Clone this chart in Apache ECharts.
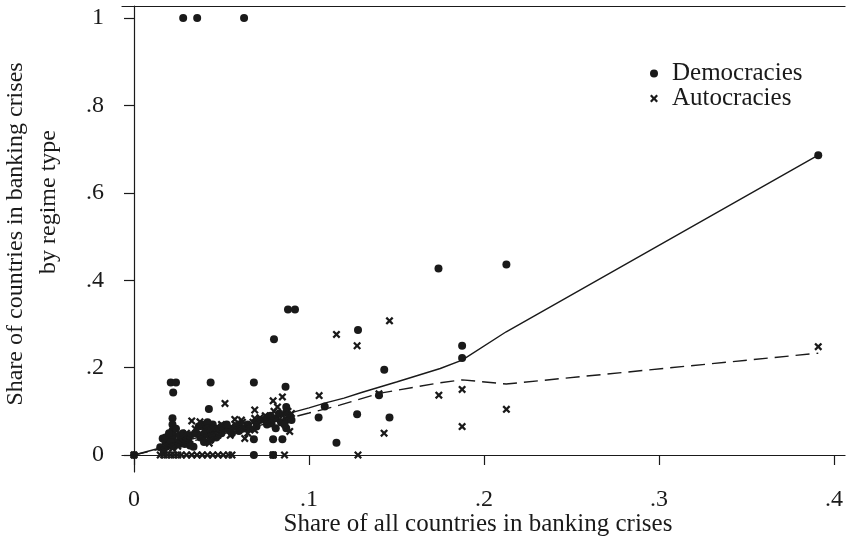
<!DOCTYPE html>
<html>
<head>
<meta charset="utf-8">
<script src="https://cdn.jsdelivr.net/npm/echarts@6/dist/echarts.min.js"></script>
<style>html,body{margin:0;padding:0;background:#fff}#c{width:846px;height:543px}</style>
</head>
<body>
<div id="c"></div>
<script>
// ---- data ----
var democracies = [
  [0,0],
  [0.0281,1],[0.0361,1],[0.0629,1],
  [0.021,0.166],[0.024,0.166],[0.0224,0.143],
  [0.0438,0.166],[0.0685,0.166],[0.0866,0.156],
  [0.08,0.265],
  [0.088,0.333],[0.092,0.333],
  [0.174,0.427],[0.2128,0.436],
  [0.128,0.286],[0.1875,0.25],[0.1875,0.222],[0.143,0.195],[0.14,0.137],
  [0.1275,0.093],[0.146,0.086],[0.1157,0.028],
  [0.109,0.111],[0.1055,0.086],
  [0.391,0.686],
  [0.0428,0.105],
  [0.022,0.084],[0.022,0.07],[0.022,0.056],[0.022,0.045],[0.022,0.036],[0.0164,0.038],[0.018,0.03],[0.02,0.025],[0.025,0.03],[0.028,0.035],[0.03,0.04],
  [0.034,0.019],[0.032,0.022],
  [0.039,0.07],[0.041,0.06],[0.043,0.05],[0.045,0.07],[0.047,0.04],[0.04,0.045],[0.044,0.035],[0.042,0.075],[0.046,0.055],
  [0.05,0.05],[0.052,0.06],[0.055,0.06],[0.058,0.065],[0.06,0.055],
  [0.0685,0.036],[0.0685,0],
  [0.0786,0.072],[0.0795,0.036],[0.0848,0.036],[0.0795,0],
  [0.087,0.11],[0.087,0.098],[0.087,0.08],[0.087,0.061],[0.081,0.084],[0.081,0.061],
  [0.065,0.07],[0.07,0.075],[0.075,0.08],
  [0.015,0.018],[0.017,0.01],
  [0.018,0.04],[0.02,0.05],[0.024,0.06],[0.026,0.045],[0.028,0.05],[0.03,0.03],[0.032,0.045],[0.035,0.05],[0.037,0.065],[0.038,0.04],
  [0.04,0.03],[0.042,0.06],[0.045,0.045],[0.048,0.06],[0.05,0.065],[0.053,0.07],[0.056,0.05],[0.06,0.07],[0.062,0.06],[0.066,0.06],
  [0.07,0.065],[0.072,0.08],[0.076,0.07],[0.078,0.09],[0.083,0.095],[0.084,0.075],[0.086,0.07],[0.089,0.09],[0.09,0.08],
  [0.019,0.02],[0.021,0.03],[0.023,0.02],[0.026,0.025],[0.029,0.025],[0.031,0.03]
];
var autocracies = [
  [0,0],
  [0.391,0.248],
  [0.146,0.307],[0.1157,0.276],[0.1275,0.25],[0.1742,0.137],[0.1875,0.15],[0.2128,0.1046],[0.1875,0.065],[0.1429,0.05],[0.128,0],[0.14,0.14],
  [0.1058,0.136],
  [0.052,0.118],[0.069,0.103],[0.0795,0.124],[0.0848,0.133],[0.069,0.084],[0.069,0.057],
  [0.033,0.078],[0.0377,0.076],[0.0576,0.0815],[0.0614,0.08],
  [0.089,0.054],[0.0633,0.038],[0.043,0.027],[0.0434,0.034],
  [0.0795,0],[0.086,0],
  [0.015,0],[0.017,0],[0.019,0],[0.021,0],[0.023,0],[0.025,0],[0.027,0],[0.03,0],[0.033,0],[0.036,0],[0.039,0],[0.042,0],[0.045,0],[0.048,0],[0.051,0],[0.054,0],[0.056,0],
  [0.02,0.02],[0.025,0.02],[0.03,0.05],[0.035,0.06],[0.05,0.07],[0.055,0.045],[0.06,0.06],[0.065,0.05],[0.07,0.07],[0.075,0.09],[0.08,0.1],[0.085,0.09],
  [0.017,0.01],[0.022,0.015],[0.028,0.03],[0.032,0.035],[0.038,0.05],[0.04,0.055],[0.045,0.06],[0.048,0.045],[0.058,0.07],[0.062,0.075],
  [0.068,0.075],[0.072,0.085],[0.078,0.08],[0.082,0.11],[0.088,0.1],[0.09,0.095]
];
var demFitX = [0, 0.015, 0.022, 0.03, 0.04, 0.05, 0.06, 0.07, 0.08, 0.09, 0.1, 0.11, 0.12, 0.13, 0.14, 0.15, 0.175, 0.1875, 0.2127, 0.391];
var demFitY = [0, 0.016, 0.024, 0.033, 0.044, 0.055, 0.065, 0.075, 0.085, 0.097, 0.108, 0.12, 0.13, 0.143, 0.155, 0.167, 0.198, 0.217, 0.282, 0.686];
var autFitX = [0, 0.015, 0.022, 0.03, 0.04, 0.05, 0.06, 0.07, 0.08, 0.09, 0.1, 0.1175, 0.14, 0.1742, 0.1875, 0.2127, 0.391];
var autFitY = [0, 0.014, 0.021, 0.029, 0.038, 0.048, 0.057, 0.066, 0.076, 0.086, 0.096, 0.114, 0.141, 0.165, 0.172, 0.1625, 0.233];
var xTicks = [0, 0.1, 0.2, 0.3, 0.4];
var xTickLabels = ['0', '.1', '.2', '.3', '.4'];
var yTicks = [0, 0.2, 0.4, 0.6, 0.8, 1];
var yTickLabels = ['0', '.2', '.4', '.6', '.8', '1'];
var seriesNames = ['Democracies', 'Autocracies'];
var xTitle = 'Share of all countries in banking crises';
var yTitle1 = 'Share of countries in banking crises';
var yTitle2 = 'by regime type';

// ---- chart ----
var FONT = '"Liberation Serif", "Times New Roman", serif';
var INK = '#1a1a1a';
var XSYM = 'path://M0,2L2,0L5,3L8,0L10,2L7,5L10,8L8,10L5,7L2,10L0,8L3,5Z';
function zip(a, b) { return a.map(function (v, i) { return [v, b[i]]; }); }
function lab(ticks, labels) { return function (v) { for (var i = 0; i < ticks.length; i++) if (Math.abs(ticks[i] - v) < 1e-9) return labels[i]; return ''; }; }

var chart = echarts.init(document.getElementById('c'), null, { renderer: 'canvas' });
chart.setOption({
  animation: false,
  backgroundColor: '#fff',
  grid: { left: 122, right: 0, top: 6, bottom: 71 },
  xAxis: [{
    type: 'value', min: -0.00685, max: 0.4063,
    axisLine: { show: true, lineStyle: { color: INK, width: 1.2 } },
    axisTick: { show: true, length: 10, customValues: xTicks, lineStyle: { color: INK, width: 1.2 } },
    axisLabel: { customValues: xTicks, formatter: lab(xTicks, xTickLabels), margin: 16, fontFamily: FONT, fontSize: 24, color: INK },
    splitLine: { show: false }
  }, {
    type: 'value', position: 'top', min: -0.00685, max: 0.4063,
    axisLine: { show: true, lineStyle: { color: INK, width: 1.2 } },
    axisTick: { show: false }, axisLabel: { show: false }, splitLine: { show: false }
  }],
  yAxis: {
    type: 'value', min: -0.0389, max: 1.0275,
    axisLine: { show: true, lineStyle: { color: INK, width: 1.2 } },
    axisTick: { show: true, length: 10, customValues: yTicks, lineStyle: { color: INK, width: 1.2 } },
    axisLabel: { customValues: yTicks, formatter: lab(yTicks, yTickLabels), margin: 18, fontFamily: FONT, fontSize: 24, color: INK },
    splitLine: { show: false }
  },
  legend: {
    data: [{ name: seriesNames[0], icon: 'circle' }, { name: seriesNames[1], icon: XSYM }],
    orient: 'vertical', left: 645, top: 56, itemWidth: 8, itemHeight: 8, itemGap: 0,
    textStyle: { fontFamily: FONT, fontSize: 25, color: INK, lineHeight: 24, padding: [0, 0, 0, 9] }
  },
  graphic: [
    { type: 'text', x: 478, y: 512, style: { text: xTitle, font: '25px ' + FONT, fill: INK, align: 'center', verticalAlign: 'top' } },
    { type: 'text', x: 4, y: 234, rotation: Math.PI / 2, style: { text: yTitle1, font: '24px ' + FONT, fill: INK, align: 'center', verticalAlign: 'top' } },
    { type: 'text', x: 37, y: 202, rotation: Math.PI / 2, style: { text: yTitle2, font: '24px ' + FONT, fill: INK, align: 'center', verticalAlign: 'top' } }
  ],
  series: [
    { name: seriesNames[0], type: 'scatter', data: democracies, symbol: 'circle', symbolSize: 8, itemStyle: { color: INK, opacity: 1 }, z: 3 },
    { name: seriesNames[1], type: 'scatter', data: autocracies, symbol: XSYM, symbolSize: 8, itemStyle: { color: INK, opacity: 1 }, z: 3 },
    { name: 'demFit', type: 'line', data: zip(demFitX, demFitY), symbol: 'none', lineStyle: { color: INK, width: 1.4 }, z: 4 },
    { name: 'autFit', type: 'line', data: zip(autFitX, autFitY), symbol: 'none', lineStyle: { color: INK, width: 1.4, type: [14, 7] }, z: 4 }
  ]
});
</script>
</body>
</html>
